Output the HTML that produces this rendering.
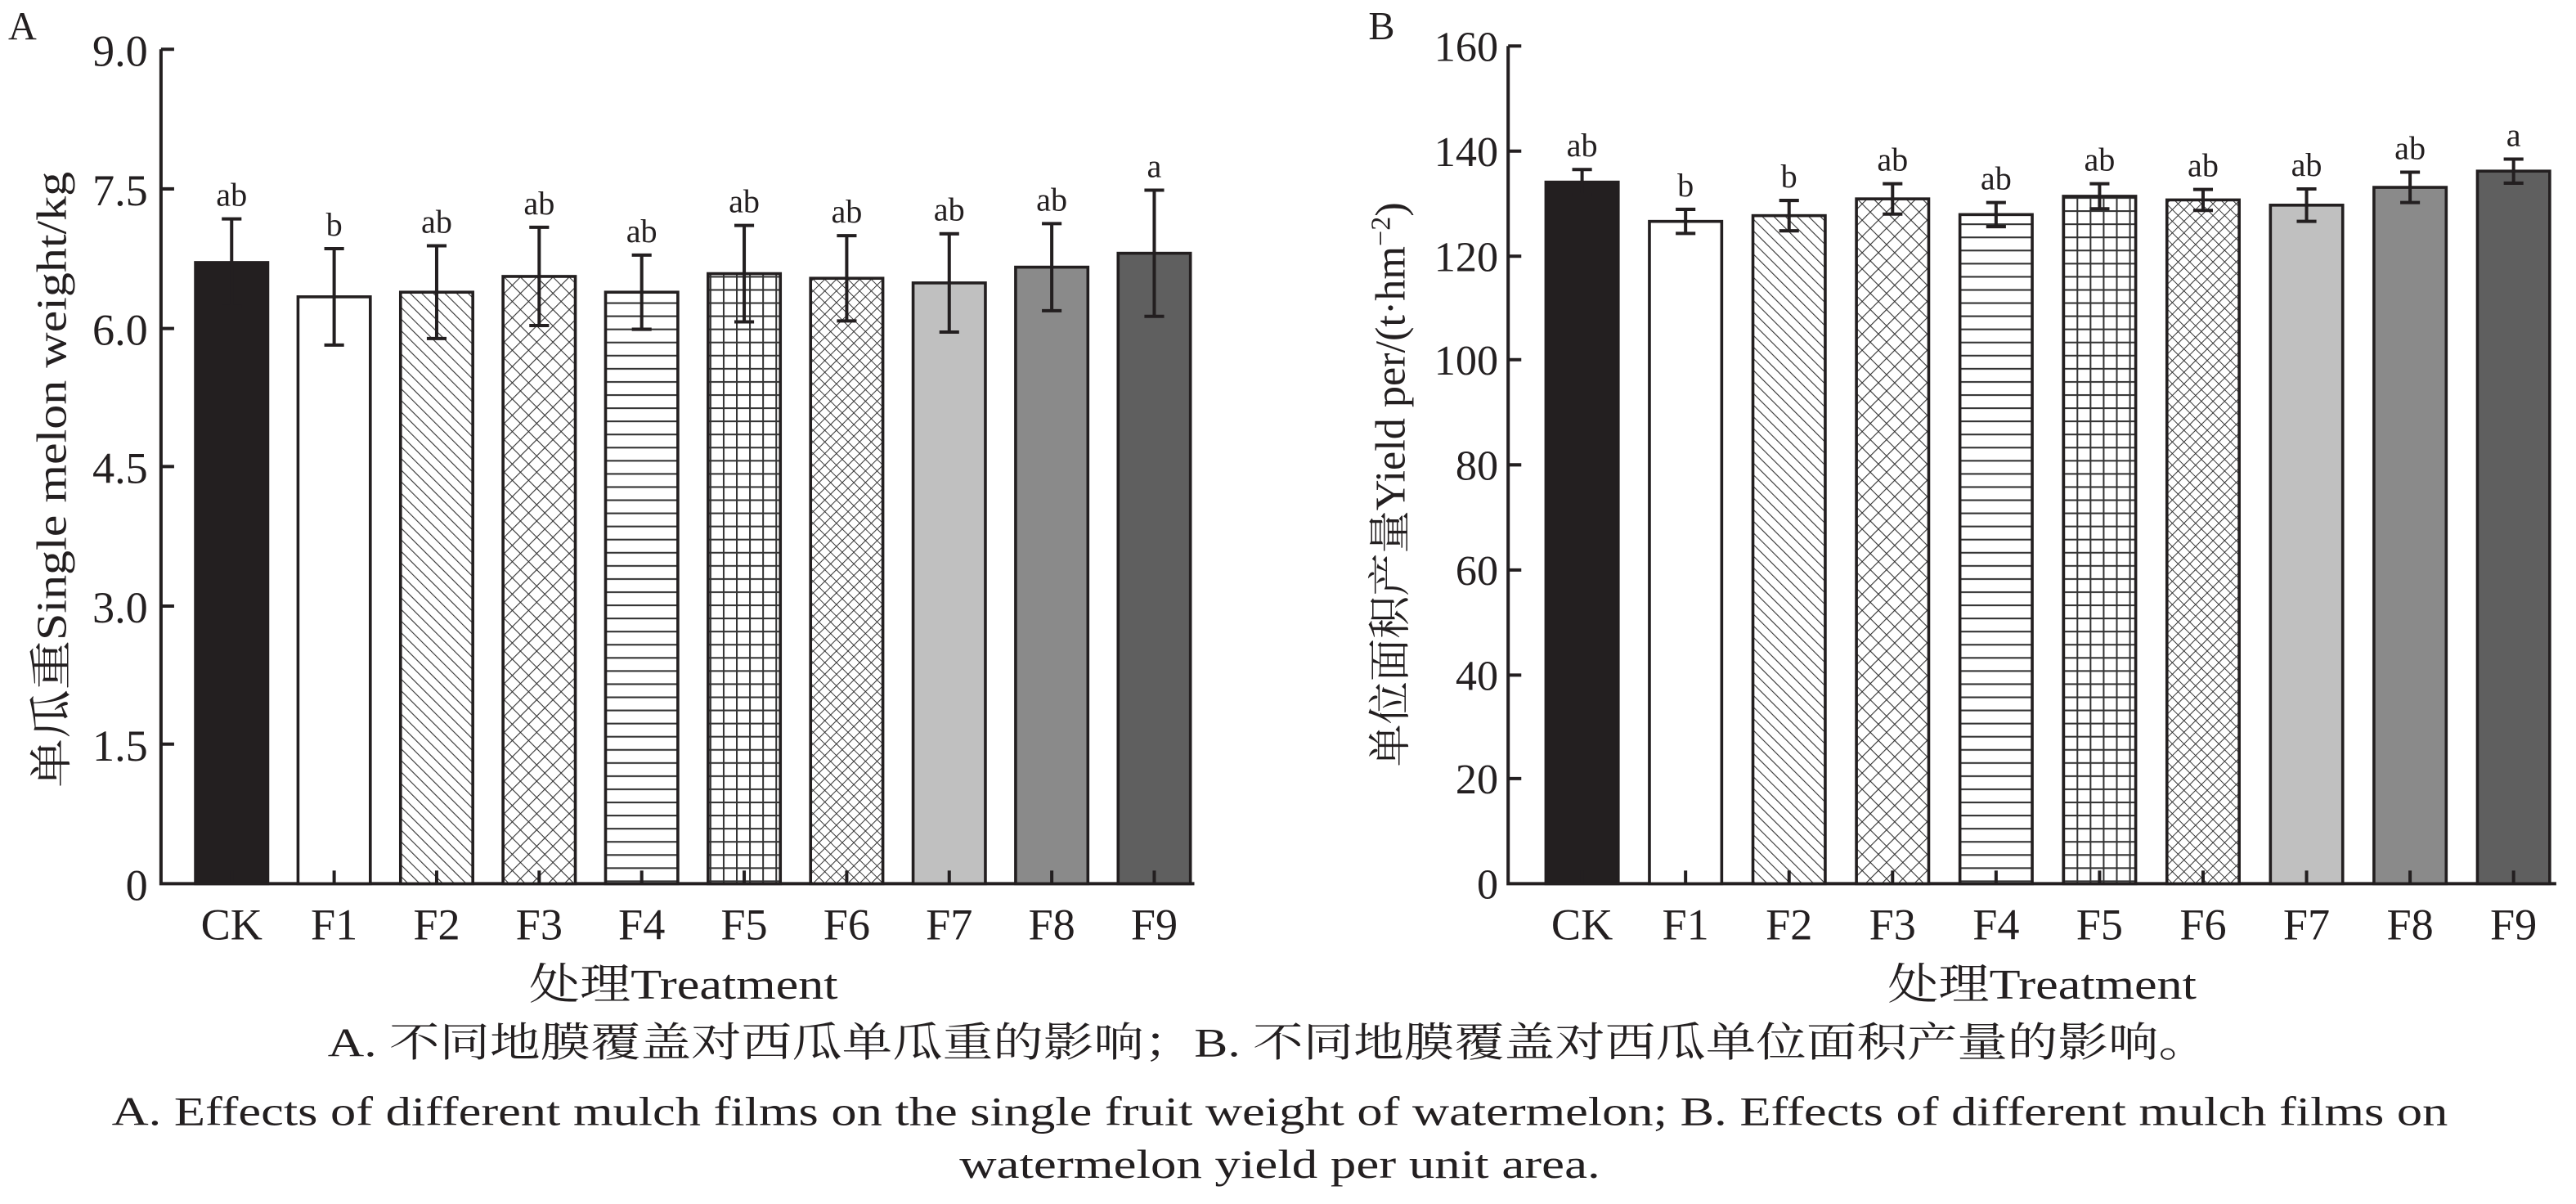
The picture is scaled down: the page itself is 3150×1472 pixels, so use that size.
<!DOCTYPE html>
<html><head><meta charset="utf-8"><style>html,body{margin:0;padding:0;background:#fff}svg{display:block}</style></head>
<body>
<svg width="3150" height="1472" viewBox="0 0 1568 733" preserveAspectRatio="none" xmlns="http://www.w3.org/2000/svg" font-family="'Liberation Serif','Noto Serif CJK SC',serif" fill="#231f20">
<defs>
<pattern id="p2" width="5" height="5" patternUnits="userSpaceOnUse" patternTransform="rotate(-45)"><rect width="5" height="5" fill="#fff"/><line x1="0" y1="0" x2="0" y2="5" stroke="#333" stroke-width="1.1"/></pattern>
<pattern id="p3" width="7" height="7" patternUnits="userSpaceOnUse" patternTransform="rotate(45)"><rect width="7" height="7" fill="#fff"/><path d="M0 0V7M0 0H7" stroke="#333" stroke-width="1.1"/></pattern>
<pattern id="p4" width="6" height="8" patternUnits="userSpaceOnUse"><rect width="6" height="8" fill="#fff"/><line x1="0" y1="0.5" x2="6" y2="0.5" stroke="#333" stroke-width="1.1"/></pattern>
<pattern id="p5" width="8" height="8" patternUnits="userSpaceOnUse"><rect width="8" height="8" fill="#fff"/><path d="M0 0.5H8M0.5 0V8" stroke="#333" stroke-width="1"/></pattern>
<pattern id="p6" width="5" height="5" patternUnits="userSpaceOnUse" patternTransform="rotate(45)"><rect width="5" height="5" fill="#fff"/><path d="M0 0V5M0 0H5" stroke="#333" stroke-width="1"/></pattern>
</defs>

<text x="5" y="24" font-size="24">A</text>
<g stroke="#231f20" stroke-width="2" fill="none">
<path d="M98 30V538H727"/>
<path d="M98 30h8M98 115h8M98 200h8M98 284h8M98 369h8M98 453h8"/>
</g>
<g font-size="27" text-anchor="end">
<text x="90" y="40">9.0</text><text x="90" y="125">7.5</text><text x="90" y="210">6.0</text><text x="90" y="294">4.5</text><text x="90" y="379">3.0</text><text x="90" y="463">1.5</text><text x="90" y="548">0</text>
</g>
<text transform="translate(40 292) rotate(-90)" font-size="26" text-anchor="middle" textLength="375" lengthAdjust="spacingAndGlyphs"><tspan font-family="'Noto Serif CJK SC',serif">单瓜重</tspan><tspan font-family="'Liberation Serif',serif">Single melon weight/kg</tspan></text>
<text x="416" y="608" font-size="26" text-anchor="middle" textLength="188" lengthAdjust="spacingAndGlyphs">处理Treatment</text>

<text x="833" y="24" font-size="24">B</text>
<g stroke="#231f20" stroke-width="2" fill="none">
<path d="M918 28V538H1556"/>
<path d="M918 28h8M918 92h8M918 156h8M918 219h8M918 283h8M918 347h8M918 411h8M918 474h8"/>
</g>
<g font-size="26" text-anchor="end">
<text x="912" y="37">160</text><text x="912" y="101">140</text><text x="912" y="165">120</text><text x="912" y="228">100</text><text x="912" y="292">80</text><text x="912" y="356">60</text><text x="912" y="420">40</text><text x="912" y="483">20</text><text x="912" y="547">0</text>
</g>
<text transform="translate(855 295) rotate(-90)" font-size="26" text-anchor="middle"><tspan font-family="'Noto Serif CJK SC',serif">单位面积产量</tspan><tspan font-family="'Liberation Serif',serif">Yield per/(t·hm</tspan><tspan dy="-9" font-size="17" font-family="'Liberation Serif',serif">−2</tspan><tspan dy="9" font-family="'Liberation Serif',serif">)</tspan></text>
<text x="1243" y="608" font-size="26" text-anchor="middle" textLength="188" lengthAdjust="spacingAndGlyphs">处理Treatment</text>

<text x="772" y="643" font-size="25" text-anchor="middle" textLength="1145" lengthAdjust="spacingAndGlyphs">A. 不同地膜覆盖对西瓜单瓜重的影响；B. 不同地膜覆盖对西瓜单位面积产量的影响。</text>
<text x="779" y="685" font-size="25" text-anchor="middle" textLength="1422" lengthAdjust="spacingAndGlyphs">A. Effects of different mulch films on the single fruit weight of watermelon; B. Effects of different mulch films on</text>
<text x="779" y="717" font-size="25" text-anchor="middle" textLength="390" lengthAdjust="spacingAndGlyphs">watermelon yield per unit area.</text>

<g id="bars"></g>
</svg>
<script>
const ns="http://www.w3.org/2000/svg";
const g=document.getElementById('bars');
function el(t,a,txt){const e=document.createElementNS(ns,t);for(const k in a)e.setAttribute(k,a[k]);if(txt!==undefined)e.textContent=txt;g.appendChild(e);return e;}
const fills=['#231f20','#fff','url(#p2)','url(#p3)','url(#p4)','url(#p5)','url(#p6)','#c0c0c0','#8a8a8a','#5f5f5f'];
const names=['CK','F1','F2','F3','F4','F5','F6','F7','F8','F9'];
const lets=['ab','b','ab','ab','ab','ab','ab','ab','ab','a'];
const letsB=['ab','b','b','ab','ab','ab','ab','ab','ab','a'];
function panel(x0,dx,y0,scale,vals,errs,L){
 for(let i=0;i<10;i++){
  const cx=x0+dx*i, top=y0-vals[i]*scale;
  el('rect',{x:cx-22,y:top,width:44,height:y0-top,fill:fills[i],stroke:'#231f20','stroke-width':1.8});
  const e1=y0-(vals[i]+errs[i])*scale,e2=y0-(vals[i]-errs[i])*scale;
  el('path',{d:`M${cx} ${e1}V${e2}M${cx-6} ${e1}h12M${cx-6} ${e2}h12`,stroke:'#231f20','stroke-width':2,fill:'none'});
  el('path',{d:`M${cx} ${y0}v-8`,stroke:'#231f20','stroke-width':2});
  el('text',{x:cx,y:e1-8,'font-size':20,'text-anchor':'middle'},L[i]);
  el('text',{x:cx,y:y0+34,'font-size':27,'text-anchor':'middle'},names[i]);
 }
}
panel(141,62.4,538,508/9,[6.7,6.33,6.38,6.55,6.38,6.58,6.53,6.48,6.65,6.8],[0.47,0.52,0.5,0.53,0.4,0.52,0.46,0.53,0.47,0.68],lets);
panel(963,63,538,510/160,[134,126.5,127.6,130.8,127.8,131.3,130.6,129.6,133,136.1],[2.4,2.3,2.9,2.9,2.3,2.4,2,3.1,2.9,2.3],letsB);
</script>
</body></html>
